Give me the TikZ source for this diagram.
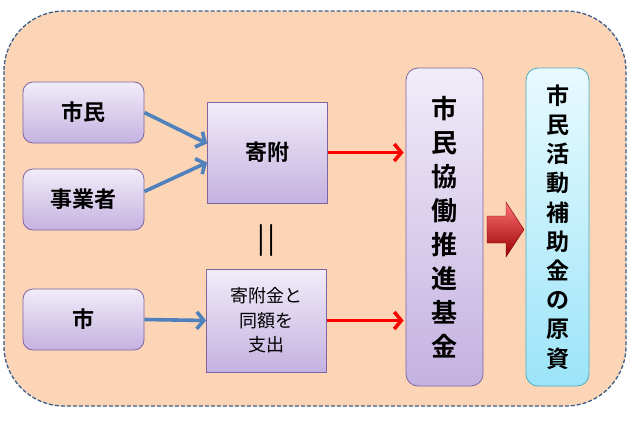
\documentclass[tikz,border=0pt]{standalone}
\usepackage{fontspec}
\newfontfamily\cjk{Noto Sans CJK JP}[BoldFont={Noto Sans CJK JP Bold}]
\usepackage{xcolor}
\usetikzlibrary{positioning}
\usetikzlibrary{arrows.meta}

\definecolor{peach}{HTML}{FBD5B5}
\definecolor{frame}{HTML}{3B5E8C}
\definecolor{lilactop}{HTML}{F1ECF9}
\definecolor{lilacbot}{HTML}{C4B2E0}
\definecolor{lilacline}{HTML}{8064A2}
\definecolor{aquatop}{HTML}{E8FAFF}
\definecolor{aquabot}{HTML}{9CE4F8}
\definecolor{aqualine}{HTML}{4BACC6}
\definecolor{bluearrow}{HTML}{4F81BD}

\begin{document}
\begin{tikzpicture}[x=1pt,y=-1pt,
  lilac/.style={draw=lilacline,line width=0.8pt,top color=lilactop,bottom color=lilacbot,
    font=\cjk\bfseries\fontsize{22}{26}\selectfont,inner sep=0pt},
  actor/.style={lilac,rounded corners=10pt,minimum width=121pt,minimum height=61pt},
  money/.style={lilac,minimum width=120pt},
  column/.style={lilac,rounded corners=12pt,minimum width=77pt,minimum height=318pt,align=center},
  bluearr/.style={bluearrow,line width=3.6pt,-{Straight Barb[length=7pt,width=17pt]}},
  redarr/.style={red,line width=3.6pt,-{Straight Barb[length=7pt,width=17pt]}}]
\useasboundingbox (0,0) rectangle (635,431);
\draw[frame,dash pattern=on 4pt off 2pt,line width=1.3pt,fill=peach,rounded corners=60pt] (4,11) rectangle (626,406);

\node[actor] (shimin) at (83.5,112.5) {市民};
\node[actor] (jigyo) at (83.5,199.5) {事業者};
\node[actor] (shi) at (83.5,319.5) {市};

\node[money,minimum height=101pt] (kifu) at (267.5,152.5) {寄附};
\node[money,minimum height=103pt,align=center,font=\cjk\fontsize{18}{24.5}\selectfont] (shishutsu) at (266.5,320.5) {寄附金と\\同額を\\支出};
\node[font=\bfseries\fontsize{32}{32}\selectfont] (equal) at (266,240) {||};

\node[column,font=\cjk\bfseries\fontsize{26}{34}\selectfont] (kikin) at (444.5,227) {市\\民\\協\\働\\推\\進\\基\\金};
\node[column,minimum width=63pt,draw=aqualine,top color=aquatop,bottom color=aquabot,
  font=\cjk\bfseries\fontsize{23}{29.2}\selectfont] (genshi) at (557.5,227) {市\\民\\活\\動\\補\\助\\金\\の\\原\\資};

\draw[bluearr] (shimin.east) -- ([yshift=9pt]kifu.west);
\draw[bluearr] ([yshift=8pt]jigyo.east) -- ([yshift=-10pt]kifu.west);
\draw[bluearr] (shi.east) -- (shishutsu.west);
\draw[redarr] (kifu.east) -- ([xshift=-2pt]kifu.east -| kikin.west);
\draw[redarr] (shishutsu.east) -- ([xshift=-2pt]shishutsu.east -| kikin.west);

% block arrow between the two columns
\shade[top color=red!55!white,bottom color=red!60!black,draw=red!50!black,line width=0.4pt]
  (487,216) -- (506,216) -- (506,202) -- (524,229.5) -- (506,257) -- (506,243) -- (487,243) -- cycle;

\end{tikzpicture}
\end{document}
